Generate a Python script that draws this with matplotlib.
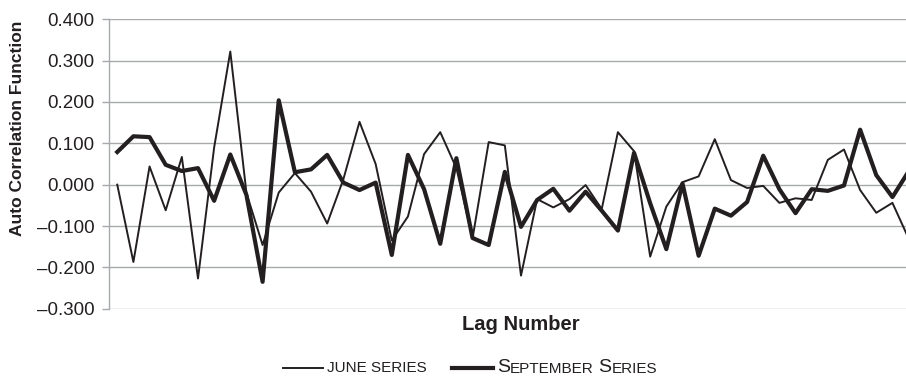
import matplotlib.pyplot as plt
from matplotlib.lines import Line2D
from matplotlib.ticker import FuncFormatter

plt.rcParams['font.family'] = ['Liberation Sans', 'DejaVu Sans']

# Autocorrelation by lag for the two series
lags = list(range(1, 51))
june = [0.000, -0.187, 0.044, -0.062, 0.067, -0.227, 0.090, 0.322, -0.020, -0.146,
        -0.019, 0.028, -0.017, -0.094, 0.013, 0.152, 0.050, -0.135, -0.077, 0.074,
        0.127, 0.040, -0.130, 0.103, 0.095, -0.220, -0.035, -0.055, -0.035, -0.001,
        -0.059, 0.127, 0.081, -0.174, -0.053, 0.006, 0.020, 0.110, 0.011, -0.008,
        -0.003, -0.044, -0.033, -0.037, 0.060, 0.085, -0.013, -0.068, -0.044, -0.130]
september = [0.079, 0.117, 0.115, 0.048, 0.033, 0.040, -0.039, 0.073, -0.025, -0.235,
             0.204, 0.030, 0.037, 0.072, 0.005, -0.013, 0.005, -0.170, 0.072, -0.011,
             -0.143, 0.064, -0.129, -0.146, 0.031, -0.102, -0.037, -0.010, -0.063, -0.017,
             -0.063, -0.111, 0.077, -0.045, -0.156, 0.003, -0.172, -0.058, -0.075, -0.042,
             0.070, -0.011, -0.069, -0.011, -0.015, -0.002, 0.133, 0.023, -0.030, 0.032]
y_ticks = [-0.3, -0.2, -0.1, 0.0, 0.1, 0.2, 0.3, 0.4]

ink = '#231f20'
grid_gray = '#a7a9ac'

fig = plt.figure(figsize=(9.06, 3.76), dpi=100)
ax = fig.add_axes([0.1205, 0.179, 0.8795, 0.7697])

ax.plot(lags, june, color=ink, lw=1.4)
ax.plot(lags, september, color=ink, lw=3.0)

ax.set_xlim(0.5, 49.84)
ax.set_ylim(-0.3, 0.4)
ax.set_xticks([])
ax.set_yticks(y_ticks)


def fmt(v, pos):
    if abs(v) < 1e-9:
        v = 0.0
    return f'{v:.3f}'.replace('-', '\u2013')


ax.yaxis.set_major_formatter(FuncFormatter(fmt))
ax.tick_params(axis='y', length=5, width=1, color=grid_gray, pad=5.5,
               labelsize=13.5, labelcolor=ink)
ax.grid(axis='y', color=grid_gray, lw=1.0)
ax.set_axisbelow(True)
for side in ['top', 'right', 'bottom']:
    ax.spines[side].set_visible(False)
ax.spines['left'].set_color(grid_gray)
ax.spines['left'].set_linewidth(1.0)

fig.text(18 / 906, 1 - 128 / 376, 'Auto Correlation Function', rotation=90,
         fontsize=12.5, fontweight='bold', color=ink, ha='center', va='center')
fig.text(521 / 906, 1 - 325 / 376, 'Lag Number', fontsize=14.5,
         fontweight='bold', color=ink, ha='center', va='center')

# legend drawn by hand so the labels can be set in small caps
ly = 1 - 368 / 376
fig.add_artist(Line2D([283 / 906, 323 / 906], [ly, ly], color=ink, lw=1.4))
fig.add_artist(Line2D([452 / 906, 493 / 906], [ly, ly], color=ink, lw=3.0))

small, big = 11, 14
base = 4 / 376
fig.text(327 / 906, base, 'JUNE SERIES', fontsize=small, color=ink,
         va='baseline')
t = fig.text(497 / 906, base, 'S', fontsize=big, color=ink, va='baseline')
t = ax.annotate('EPTEMBER', xy=(1, 0), xycoords=t, va='bottom',
                fontsize=small, color=ink, annotation_clip=False)
t = ax.annotate('S', xy=(1, 0), xycoords=t, xytext=(3.5, 0),
                textcoords='offset points', va='bottom', fontsize=big,
                color=ink, annotation_clip=False)
ax.annotate('ERIES', xy=(1, 0), xycoords=t, va='bottom', fontsize=small,
            color=ink, annotation_clip=False)

fig.savefig('out.png', dpi=100)
